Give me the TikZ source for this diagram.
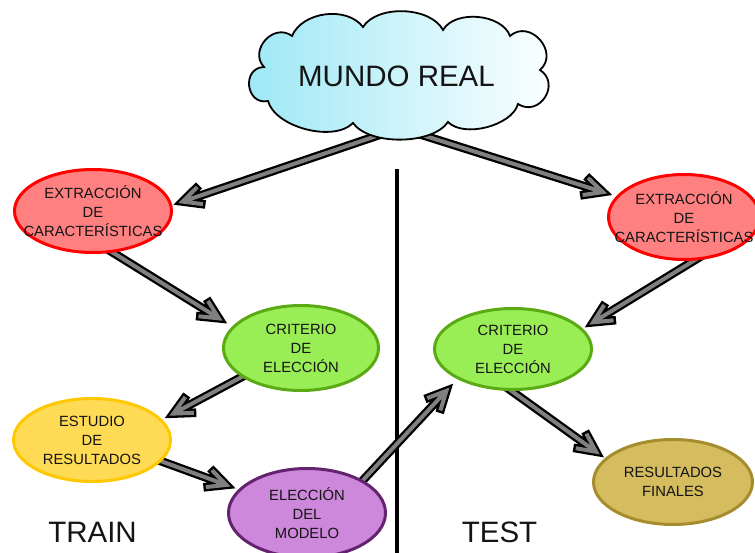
\documentclass[tikz,border=0pt]{standalone}
\usepackage{fontspec}
\setmainfont{Liberation Sans}
\usetikzlibrary{calc,shapes.geometric}
\pgfdeclarelayer{paper}
\pgfdeclarelayer{back}
\pgfsetlayers{paper,back,main}

\definecolor{redfill}{RGB}{255,128,128}
\definecolor{redline}{RGB}{255,0,0}
\definecolor{greenfill}{RGB}{153,238,85}
\definecolor{greenline}{RGB}{90,170,20}
\definecolor{yellowfill}{RGB}{255,218,85}
\definecolor{yellowline}{RGB}{255,200,0}
\definecolor{purplefill}{RGB}{205,136,220}
\definecolor{purpleline}{RGB}{100,35,110}
\definecolor{khakifill}{RGB}{212,188,95}
\definecolor{khakiline}{RGB}{165,140,45}
\definecolor{cloudcyan}{RGB}{155,232,245}
\definecolor{shaftgray}{RGB}{128,128,128}

\tikzset{
  blob/.style n args={3}{ellipse, draw=#1line, fill=#1fill, line width=3pt,
    inner sep=0pt, outer sep=0pt, minimum width=#2, minimum height=#3},
  lbl/.style={align=center, inner sep=0pt, text=black!92,
    font=\fontsize{14.8}{19}\selectfont},
  big/.style={inner sep=0pt, text=black!92, font=\fontsize{29.5}{35}\selectfont},
  shaftout/.style={draw=black, line width=8.6pt, line join=miter, miter limit=10},
  shaftin/.style={draw=shaftgray, line width=4pt, line join=miter, miter limit=10},
}

% thick two-tone connector with an open barb head
\newcommand\fatlink[4]{% from, to, tail overlap, head setback
  \path ($(#1)!-#3!(#2)$) coordinate (ls)
        ($(#2)!#4!(#1)$) coordinate (le)
        ($(le)!23pt!26:(ls)$) coordinate (lb1)
        ($(le)!23pt!-26:(ls)$) coordinate (lb2)
        ($(le)!20.5pt!26:(ls)$) coordinate (lg1)
        ($(le)!20.5pt!-26:(ls)$) coordinate (lg2);
  \draw[shaftout] (ls) -- (le) (lb1) -- (le) -- (lb2);
  \draw[shaftin] (ls) -- (le) (lg1) -- (le) -- (lg2);
}

\begin{document}
\begin{tikzpicture}[x=1pt, y=-1pt]
\useasboundingbox (0,0) rectangle (755,553);
\begin{pgfonlayer}{paper}
  \fill[white] (0,0) rectangle (755,553);
\end{pgfonlayer}

% cloud
\shadedraw[left color=cloudcyan, right color=white, draw=black, line width=1.8pt]
  (268,101) to[bend left=95, looseness=1.7] (264,67)
  to[bend left=85, looseness=1.4] (292,36)
  to[bend left=60, looseness=0.95] (363,27)
  to[bend left=60, looseness=0.85] (443,30)
  to[bend left=65, looseness=0.9] (510,36)
  to[bend left=90, looseness=1.5] (540,70)
  to[bend left=90, looseness=1.6] (518,104)
  to[bend left=60, looseness=0.8] (448,122)
  to[bend left=55, looseness=0.75] (353,123)
  to[bend left=60, looseness=0.8] (268,101) -- cycle;
\node[big] (mundo) at (396.5,76) {MUNDO REAL};
\coordinate (base) at (400,128);

% process steps
\node[blob={red}{157pt}{83pt}] (extL) at (93,211) {};
\node[lbl] (extLt) at (extL) {EXTRACCIÓN\\DE\\CARACTERÍSTICAS};
\node[blob={red}{151pt}{85pt}] (extR) at (684,217) {};
\node[lbl] (extRt) at (extR) {EXTRACCIÓN\\DE\\CARACTERÍSTICAS};
\node[blob={green}{155pt}{85pt}] (critL) at (301,348) {};
\node[lbl] (critLt) at (critL) {CRITERIO\\DE\\ELECCIÓN};
\node[blob={green}{157pt}{81pt}] (critR) at (513,349) {};
\node[lbl] (critRt) at (critR) {CRITERIO\\DE\\ELECCIÓN};
\node[blob={yellow}{157pt}{83pt}] (estudio) at (92,440) {};
\node[lbl] (estudiot) at (estudio) {ESTUDIO\\DE\\RESULTADOS};
\node[blob={purple}{157pt}{89pt}] (modelo) at (307,513) {};
\node[lbl] (modelot) at (modelo) {ELECCIÓN\\DEL\\MODELO};
\node[blob={khaki}{159pt}{85pt}] (finales) at (673,482) {};
\node[lbl] (finalest) at (finales) {RESULTADOS\\FINALES};

% phase labels
\node[big] (train) at (92.5,532.5) {TRAIN};
\node[big] (test) at (499.5,532.5) {TEST};

\begin{pgfonlayer}{back}
  \coordinate (divtop) at (397,169);
  \coordinate (divbot) at (397,553);
  \draw[line width=3.5pt] (divtop) -- (divbot);
  \fatlink{base}{extL.4}{0pt}{12.5pt}
  \fatlink{base}{extR.163}{0pt}{15.5pt}
  \fatlink{extL.-66}{critL.163}{8pt}{17pt}
  \fatlink{critL.-154}{estudio.16}{8pt}{14pt}
  \fatlink{estudio.-17}{modelo.161}{8pt}{14.5pt}
  \fatlink{modelo.30}{critR.-152}{8pt}{17.5pt}
  \fatlink{extR.-73}{critR.16}{8pt}{13.5pt}
  \fatlink{critR.-95}{finales.161}{8pt}{12.5pt}
\end{pgfonlayer}
\end{tikzpicture}
\end{document}
